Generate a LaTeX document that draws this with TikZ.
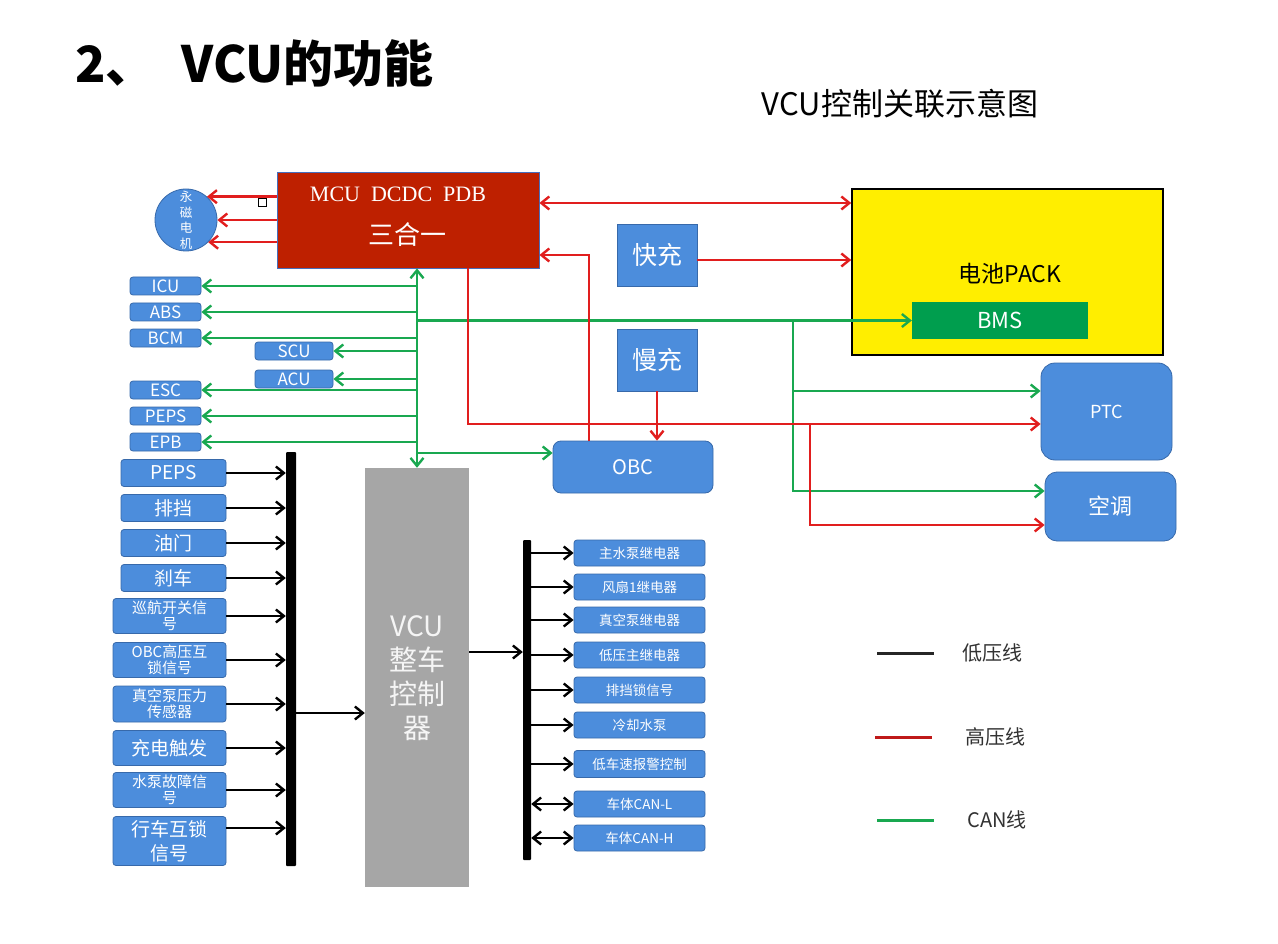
\documentclass[tikz,border=0pt]{standalone}
\usepackage{fontspec}
\setmainfont{Noto Sans CJK SC}
\newfontfamily\serifx{Liberation Serif}
\usetikzlibrary{arrows.meta,calc}
\definecolor{nblue}{RGB}{76,141,220}
\definecolor{nborder}{RGB}{55,105,170}
\definecolor{mcured}{RGB}{190,32,0}
\definecolor{mcuborder}{RGB}{70,110,190}
\definecolor{hvred}{RGB}{225,30,30}
\definecolor{cangreen}{RGB}{25,168,80}
\definecolor{packyellow}{RGB}{255,238,0}
\definecolor{bmsgreen}{RGB}{0,158,78}
\definecolor{vcugray}{RGB}{166,166,166}
\definecolor{legtext}{RGB}{50,50,50}
\newcommand{\fsz}[2]{\fontsize{#1}{#2}\selectfont}
\begin{document}
\begin{tikzpicture}[x=1pt,y=-1pt,
  >={Straight Barb[length=8pt,width=13pt]},
  bx/.style={draw=nborder,line width=0.8pt,fill=nblue,text=white,rounded corners=3pt,inner sep=0pt,align=center},
  canbox/.style={bx,minimum width=71pt,minimum height=18pt,font=\fsz{17}{17}},
  canboxw/.style={bx,minimum width=78pt,minimum height=18pt,font=\fsz{17}{17}},
  inbox/.style={bx,minimum width=105pt,minimum height=27pt,font=\fsz{19}{20}},
  inboxw/.style={bx,minimum width=113pt,minimum height=35pt,font=\fsz{15}{16}},
  outbox/.style={bx,minimum width=131pt,minimum height=26pt,font=\fsz{13.5}{14}},
  sqbox/.style={draw=nborder,line width=0.8pt,fill=nblue,text=white,inner sep=0pt},
  lv/.style={line width=2.4pt,black,->},
  lvb/.style={line width=2.4pt,black,<->},
  hv/.style={line width=2.4pt,hvred},
  can/.style={line width=2.4pt,cangreen},
  barstyle/.style={fill=black,inner sep=0pt,rounded corners=1pt},
]
\useasboundingbox[fill=white] (0,0) rectangle (1278,944);

% titles
\node[anchor=base west,font=\bfseries\fsz{50}{52}] (title) at (72,83) {2、\hspace{26pt}VCU的功能};
\node[font=\fsz{31}{32}] (subtitle) at (900,104) {VCU控制关联示意图};

% MCU
\node[draw=mcuborder,line width=0.8pt,fill=mcured,minimum width=262pt,minimum height=96pt,inner sep=0pt] (mcu) at (408,220) {};
\node[text=white,font=\serifx\fsz{22}{23}] (mcut1) at (398,194) {MCU\ \ DCDC\ \ PDB};
\node[text=white,font=\fsz{26}{27}] (mcut2) at (407,235) {三合一};
\node[draw=black,fill=white,minimum size=8pt,inner sep=0pt,line width=0.8pt] (handle) at (262,202) {};

% motor
\node[circle,draw=nborder,line width=0.8pt,fill=nblue,minimum size=62pt,inner sep=0pt] (motor) at (186,220) {};
\node[text=white,font=\fsz{12.5}{15.5},align=center,inner sep=0pt] (motortxt) at (186,220.5) {永\\磁\\电\\机};

% CAN nodes
\node[canbox] (icu) at (165.5,286) {ICU};
\node[canbox] (abs) at (165.5,312) {ABS};
\node[canbox] (bcm) at (165.5,338) {BCM};
\node[canboxw] (scu) at (294,351) {SCU};
\node[canboxw] (acu) at (294,379) {ACU};
\node[canbox] (esc) at (165.5,390) {ESC};
\node[canbox] (peps1) at (165.5,416) {PEPS};
\node[canbox] (epb) at (165.5,442) {EPB};

% battery side
\node[draw=black,line width=1.5pt,fill=packyellow,minimum width=311pt,minimum height=166pt,inner sep=0pt] (pack) at (1007.5,272) {};
\node[font=\fsz{23}{24}] (packt) at (1010,274) {电池PACK};
\node[fill=bmsgreen,minimum width=176pt,minimum height=37pt,inner sep=0pt,text=white,font=\fsz{22}{23}] (bms) at (1000,320.5) {BMS};
\node[sqbox,minimum width=80pt,minimum height=62pt,font=\fsz{25}{26}] (kc) at (657,255) {快充};
\node[sqbox,minimum width=80pt,minimum height=62pt,font=\fsz{25}{26}] (mc) at (657,360) {慢充};
\node[bx,rounded corners=8pt,minimum width=160pt,minimum height=52pt,font=\fsz{20}{21}] (obc) at (633,467) {OBC};
\node[bx,rounded corners=14pt,minimum width=131pt,minimum height=97pt,font=\fsz{18}{19}] (ptc) at (1106.5,411.5) {PTC};
\node[bx,rounded corners=12pt,minimum width=131pt,minimum height=69pt,font=\fsz{22}{23}] (kt) at (1110.5,506.5) {空调};

% VCU
\node[fill=vcugray,minimum width=104pt,minimum height=419pt,inner sep=0pt] (vcu) at (417,677.5) {};
\node[text=white!92!gray,font=\fsz{28}{34},align=center] (vcut) at (417,678) {VCU\\整车\\控制\\器};

% inputs
\node[inbox] (in1) at (173.5,473) {PEPS};
\node[inbox] (in2) at (173.5,508) {排挡};
\node[inbox] (in3) at (173.5,543) {油门};
\node[inbox] (in4) at (173.5,578) {刹车};
\node[inboxw] (in5) at (169.5,616) {巡航开关信\\号};
\node[inboxw] (in6) at (169.5,660) {OBC高压互\\锁信号};
\node[inboxw,minimum height=36pt] (in7) at (169.5,704) {真空泵压力\\传感器};
\node[inboxw,font=\fsz{19}{20}] (in8) at (169.5,748) {充电触发};
\node[inboxw] (in9) at (169.5,790) {水泵故障信\\号};
\node[inboxw,minimum height=49pt,font=\fsz{19}{24}] (in10) at (169.5,841) {行车互锁\\信号};

% bars
\node[barstyle,minimum width=10pt,minimum height=414pt] (lbar) at (291,659) {};
\node[barstyle,minimum width=8pt,minimum height=320pt] (rbar) at (527,700) {};

% outputs
\node[outbox] (o1) at (639.5,553) {主水泵继电器};
\node[outbox] (o2) at (639.5,587) {风扇1继电器};
\node[outbox] (o3) at (639.5,620) {真空泵继电器};
\node[outbox] (o4) at (639.5,655) {低压主继电器};
\node[outbox] (o5) at (639.5,690) {排挡锁信号};
\node[outbox] (o6) at (639.5,725) {冷却水泵};
\node[outbox,minimum height=27pt] (o7) at (639.5,764) {低车速报警控制};
\node[outbox] (o8) at (639.5,804) {车体CAN-L};
\node[outbox] (o9) at (639.5,838) {车体CAN-H};

% level coordinates
\coordinate (busx) at (417,0);
\coordinate (gjx) at (793,0);
\coordinate (g1) at (0,391);
\coordinate (g2) at (0,491);
\coordinate (g3) at (0,453);
\coordinate (r1) at (0,203);
\coordinate (r2) at (0,260);
\coordinate (r3x) at (589,0);
\coordinate (r4) at (0,255);
\coordinate (r5x) at (468,0);
\coordinate (r6) at (0,424);
\coordinate (r7x) at (810,0);
\coordinate (r8) at (0,525);
\coordinate (lvl1) at (0,713);
\coordinate (lvl2) at (0,652);
\coordinate (lvl3) at (0,828);

% green CAN
\draw[can,<->] (mcu.south -| busx) -- (vcu.north -| busx);
\foreach \n in {icu,abs,bcm,scu,acu,esc,peps1,epb}
  \draw[can,->] (busx |- \n.east) -- (\n.east);
\draw[can,->] (busx |- bms.west) -- (bms.west);
\draw[can,->] (gjx |- bms.west) |- (ptc.west |- g1);
\draw[can,->] (gjx |- bms.west) |- (kt.west |- g2);
\draw[can,->] (busx |- g3) -- (obc.west |- g3);

% red HV
\draw[hv,->] (mcu.west |- motor.48) -- (motor.48);
\draw[hv,->] (mcu.west |- motor.east) -- (motor.east);
\draw[hv,->] (mcu.west |- motor.-45) -- (motor.-45);
\draw[hv,<->] (mcu.east |- r1) -- (pack.west |- r1);
\draw[hv,->] (kc.east |- r2) -- (pack.west |- r2);
\draw[hv,->] (obc.north -| r3x) |- (mcu.east |- r4);
\draw[hv,->] (mc.south) -- (obc.north -| mc.south);
\draw[hv,->] (mcu.south -| r5x) |- (ptc.west |- r6);
\draw[hv,->] (r7x |- r6) |- (kt.west |- r8);

% black LV
\foreach \n in {in1,in2,in3,in4,in5,in6,in7,in8,in9}
  \draw[lv] (\n.east) -- (lbar.west |- \n.east);
\draw[lv] (in10.east |- lvl3) -- (lbar.west |- lvl3);
\draw[lv] (lbar.east |- lvl1) -- (vcu.west |- lvl1);
\draw[lv] (vcu.east |- lvl2) -- (rbar.west |- lvl2);
\foreach \n in {o1,o2,o3,o4,o5,o6,o7}
  \draw[lv] (rbar.east |- \n.west) -- (\n.west);
\foreach \n in {o8,o9}
  \draw[lvb] (rbar.east |- \n.west) -- (\n.west);

% legend
\coordinate (la1) at (877,653); \coordinate (la2) at (934,653);
\coordinate (lb1) at (875,737); \coordinate (lb2) at (932,737);
\coordinate (lc1) at (877,820); \coordinate (lc2) at (934,820);
\draw[line width=3pt,black!85] (la1) -- (la2);
\draw[line width=3pt,hvred!85!black] (lb1) -- (lb2);
\draw[line width=3pt,cangreen] (lc1) -- (lc2);
\node[font=\fsz{20}{21},text=legtext] (lt1) at (992,653) {低压线};
\node[font=\fsz{20}{21},text=legtext] (lt2) at (995,737) {高压线};
\node[font=\fsz{20}{21},text=legtext] (lt3) at (997,820) {CAN线};
\end{tikzpicture}
\end{document}
